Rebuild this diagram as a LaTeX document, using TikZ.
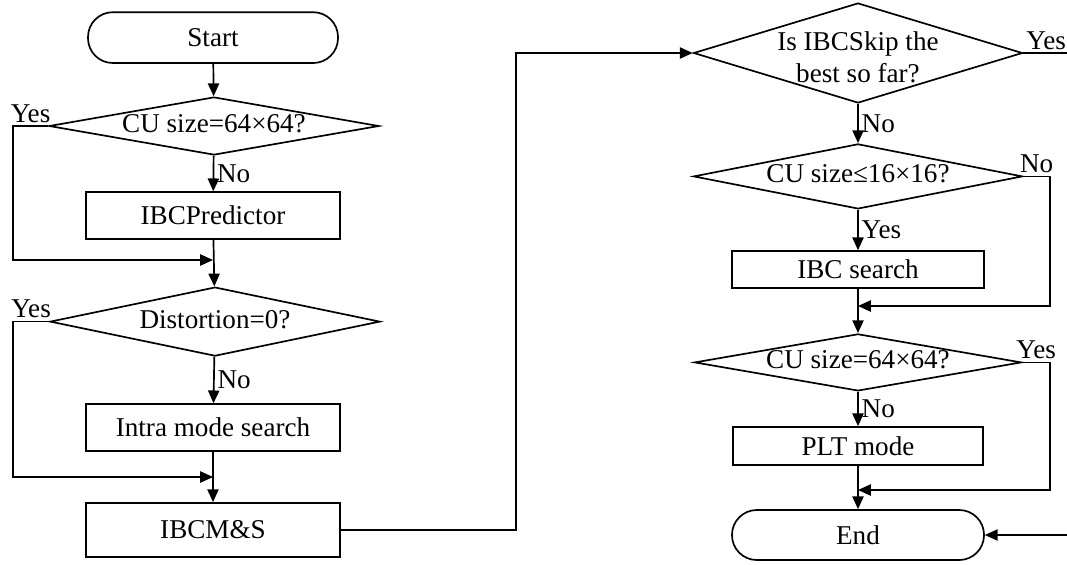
\documentclass[tikz,border=0pt]{standalone}
\usepackage{fontspec}
\setmainfont{Liberation Serif}
\usetikzlibrary{arrows.meta,shapes.geometric,positioning}
\newcommand{\flowfont}{\fontsize{19.3}{23}\selectfont}
\newcommand{\dtext}[1]{\makebox[0pt]{\begin{tabular}{@{}c@{}}#1\end{tabular}}}
\tikzset{
    flow chart/.style = {>={Triangle[length=3.2mm, width=2.8mm]},
                         font=\flowfont},
    line/.style       = {line width=1.2pt},
    block/.style      = {draw, line width=1.2pt, fill=white, inner sep=0pt,
                         minimum width=6.35cm, minimum height=1.175cm},
    terminal/.style   = {block, rounded corners=0.62cm,
                         minimum width=6.25cm, minimum height=1.27cm},
    decision/.style   = {draw, diamond, line width=1.2pt, inner sep=0pt,
                         minimum width=8.25cm},
    sig/.style        = {inner sep=2pt}
}

\begin{document}
\begin{tikzpicture}[flow chart]
\useasboundingbox (0,0) rectangle (26.675,-14.1);

% ================= Loop columns =================
\coordinate (loopL) at (0.325,0);
\coordinate (loopR) at (26.25,0);
\coordinate (jump)  at (12.9,0);

% ================= Left column =================
\node[terminal] (start) at (5.325,-0.94) {Start};
\node[decision, minimum height=1.45cm] (size1) at (5.35,-3.15)
      {\dtext{CU size=64×64?}};
\node[block] (pred) at (5.325,-5.39) {IBCPredictor};
\coordinate (m1) at (5.325,-6.5);
\node[decision, minimum height=1.725cm] (dist) at (5.375,-8.04)
      {\dtext{Distortion=0?}};
\node[block] (intra) at (5.325,-10.69) {Intra mode search};
\coordinate (m2) at (5.325,-11.925);
\node[block, minimum height=1.35cm] (ibcms) at (5.325,-13.25) {IBCM\&S};

% ================= Right column =================
\node[decision, minimum width=8.225cm, minimum height=2.5cm] (skip)
      at (21.45,-1.325)
      {\raisebox{-0.36cm}[0pt][0pt]{\dtext{Is IBCSkip the\\best so far?}}};
\node[decision, minimum width=8.225cm, minimum height=1.625cm] (size2)
      at (21.45,-4.41) {\dtext{CU size≤16×16?}};
\node[block, minimum width=6.3cm, minimum height=0.925cm] (search)
      at (21.45,-6.74) {IBC search};
\coordinate (m3) at (21.45,-7.65);
\node[decision, minimum width=8.175cm, minimum height=1.425cm] (size3)
      at (21.45,-9.06) {\dtext{CU size=64×64?}};
\node[block, minimum width=6.25cm, minimum height=0.95cm] (plt)
      at (21.45,-11.15) {PLT mode};
\coordinate (m4) at (21.45,-12.25);
\node[terminal, minimum width=6.3cm, minimum height=1.25cm] (stop)
      at (21.45,-13.375) {End};

% ================= Left connectors =================
\draw[->, line] (start) -- (size1);
\draw[->, line] (size1) -- node[sig, right] {No} (pred);
\draw[->, line] (pred) -- (dist);
\draw[->, line] (size1.west) -- node[sig, above] {Yes} (size1.west -| loopL) |- (m1);
\draw[->, line] (dist) -- node[sig, right] {No} (intra);
\draw[->, line] (intra) -- (ibcms);
\draw[->, line] (dist.west) -- node[sig, above] {Yes} (dist.west -| loopL) |- (m2);
\draw[->, line] (ibcms.east) -- (ibcms.east -| jump) |- (skip.west);

% ================= Right connectors =================
\draw[->, line] (skip) -- node[sig, right] {No} (size2);
\draw[->, line] (size2) -- node[sig, right] {Yes} (search);
\draw[->, line] (search) -- (size3);
\draw[->, line] (size2.east) -- node[sig, above] {No} (size2.east -| loopR) |- (m3);
\draw[->, line] (size3) -- node[sig, right] {No} (plt);
\draw[->, line] (plt) -- (stop);
\draw[->, line] (size3.east) -- node[sig, above] {Yes} (size3.east -| loopR) |- (m4);

% ================= Skip branch (leaves the page) =================
\node[sig, anchor=south west] (yesskip) at (skip.east) {Yes};
\begin{scope}
    \clip (0,0) rectangle (26.675,-14.1);
    \draw[->, line] (skip.east) -- ++(1.5,0) |- (stop.east);
\end{scope}

\end{tikzpicture}
\end{document}
